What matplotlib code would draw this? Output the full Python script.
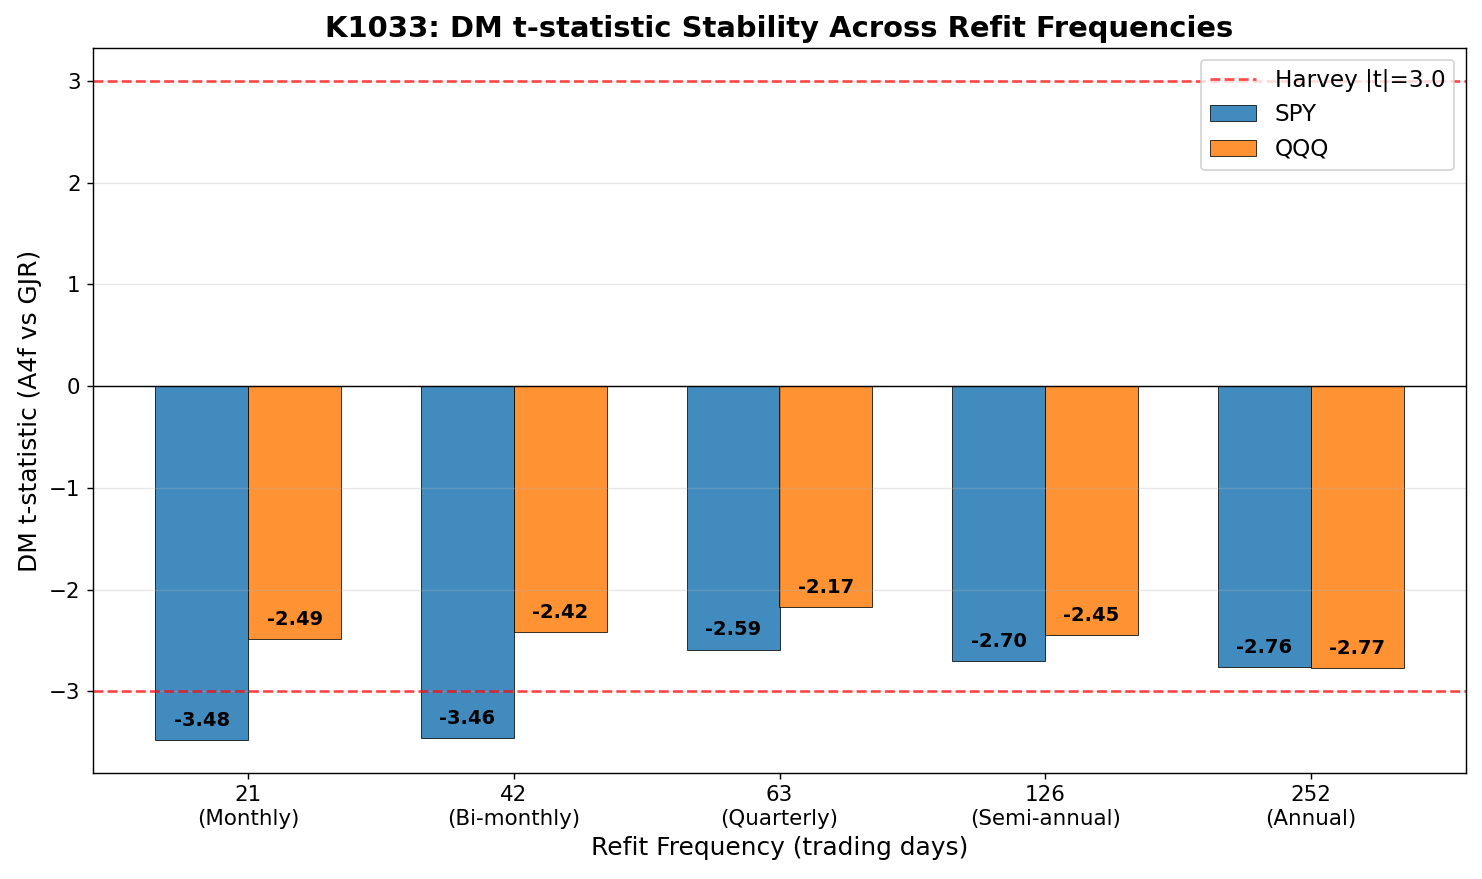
import matplotlib
matplotlib.use("Agg")
import matplotlib.pyplot as plt
import numpy as np

frequencies = ["21\n(Monthly)", "42\n(Bi-monthly)", "63\n(Quarterly)", "126\n(Semi-annual)", "252\n(Annual)"]
spy_t = [-3.48, -3.46, -2.59, -2.70, -2.76]
qqq_t = [-2.49, -2.42, -2.17, -2.45, -2.77]
harvey = 3.0

DPI = 128
fig = plt.figure(figsize=(1482 / DPI, 879 / DPI), dpi=DPI)
ax = fig.add_axes([93 / 1482, (879 - 773) / 879, (1466 - 93) / 1482, (773 - 48) / 879])
x = np.arange(len(frequencies))
w = 0.35
b1 = ax.bar(x - w/2, spy_t, w, label="SPY", color="#1f77b4", alpha=0.85, edgecolor="black", linewidth=0.5)
b2 = ax.bar(x + w/2, qqq_t, w, label="QQQ", color="#ff7f0e", alpha=0.85, edgecolor="black", linewidth=0.5)

ax.axhline(harvey, color="red", linestyle="--", linewidth=1.5, alpha=0.7, label="Harvey |t|=3.0")
ax.axhline(-harvey, color="red", linestyle="--", linewidth=1.5, alpha=0.7)
ax.axhline(0, color="black", linewidth=0.8)

for bars, vals in ((b1, spy_t), (b2, qqq_t)):
    for bar, v in zip(bars, vals):
        ax.text(bar.get_x() + bar.get_width()/2, v + 0.1, f"{v:.2f}",
                ha="center", va="bottom", fontsize=11, fontweight="bold")

ax.set_xticks(x)
ax.set_xticklabels(frequencies, fontsize=12)
ax.tick_params(axis="y", labelsize=12)
ax.set_xlabel("Refit Frequency (trading days)", fontsize=14)
ax.set_ylabel("DM t-statistic (A4f vs GJR)", fontsize=14)
ax.set_title("K1033: DM t-statistic Stability Across Refit Frequencies", fontsize=16.3, fontweight="bold")
ax.grid(axis="y", alpha=0.3)
ax.legend(fontsize=13, loc="upper right")
fig.savefig("out.png", dpi=DPI)
